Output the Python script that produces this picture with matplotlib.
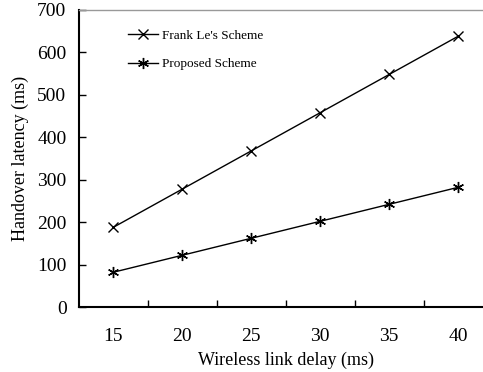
import matplotlib.pyplot as plt

delays = [15, 20, 25, 30, 35, 40]
frank_le = [188, 278, 368, 458, 548, 638]
proposed = [82, 122, 162, 202, 242, 282]
y_ticks = [0, 100, 200, 300, 400, 500, 600, 700]

plt.rcParams['font.family'] = ['Liberation Serif', 'DejaVu Serif']

fig = plt.figure(figsize=(4.83, 3.72), dpi=100)
ax = fig.add_axes([79 / 483, 65 / 372, 413.5 / 483, 297 / 372])

ax.plot(delays, frank_le, color='black', lw=1, marker='x', ms=7, mew=1,
        label="Frank Le's Scheme")
ax.plot(delays, proposed, color='black', lw=1, marker=(6, 2, 0), ms=8, mew=1,
        label='Proposed Scheme')

ax.set_xlim(12.5, 42.5)
ax.set_ylim(0, 700)
ax.set_yticks(y_ticks)

# category-style axis: ticks between groups, labels centred
ax.set_xticks([17.5, 22.5, 27.5, 32.5, 37.5])
ax.set_xticklabels([])
ax.set_xticks(delays, minor=True)
ax.set_xticklabels([str(d) for d in delays], minor=True)
ax.tick_params(axis='x', which='major', direction='in', length=5, width=1)
ax.tick_params(axis='x', which='minor', length=0, pad=15, labelsize=14)
ax.tick_params(axis='y', direction='in', length=5, width=1, pad=9, labelsize=14)

ax.spines['left'].set_linewidth(1.5)
ax.spines['bottom'].set_linewidth(1.5)
ax.spines['top'].set_color('#999999')
ax.spines['top'].set_linewidth(1)
ax.spines['right'].set_visible(False)

ax.set_xlabel('Wireless link delay (ms)', fontsize=13, labelpad=5)
ax.set_ylabel('Handover latency (ms)', fontsize=13, labelpad=6)

ax.legend(loc='upper left', bbox_to_anchor=(0.09, 0.975), frameon=False,
          fontsize=9.5, handlelength=2.3, handletextpad=0.3, labelspacing=1.25)

fig.savefig('out.png', dpi=100)
